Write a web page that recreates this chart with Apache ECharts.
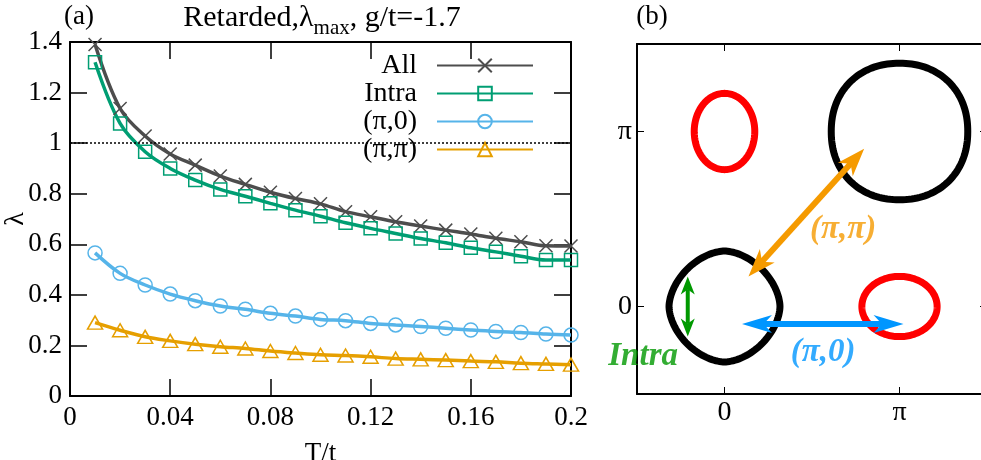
<!DOCTYPE html>
<html>
<head>
<meta charset="utf-8">
<script src="https://cdn.jsdelivr.net/npm/echarts@6/dist/echarts.min.js"></script>
<style>
  html, body { margin: 0; padding: 0; background: #fff; }
  #main { width: 981px; height: 460px; }
</style>
</head>
<body>
<div id="main"></div>
<script>
// (a) eigenvalue vs temperature
const temps = [0.01, 0.02, 0.03, 0.04, 0.05, 0.06, 0.07, 0.08, 0.09, 0.10,
  0.11, 0.12, 0.13, 0.14, 0.15, 0.16, 0.17, 0.18, 0.19, 0.20];
const lamAll = [1.39, 1.137, 1.028, 0.957, 0.913, 0.87, 0.837, 0.806, 0.781, 0.76,
  0.729, 0.709, 0.689, 0.672, 0.656, 0.641, 0.624, 0.61, 0.594, 0.593];
const lamIntra = [1.32, 1.078, 0.966, 0.9, 0.854, 0.817, 0.79, 0.762, 0.735, 0.711,
  0.685, 0.663, 0.643, 0.623, 0.606, 0.586, 0.57, 0.553, 0.538, 0.538];
const lamPi0 = [0.566, 0.485, 0.439, 0.403, 0.377, 0.356, 0.343, 0.327, 0.316, 0.303,
  0.298, 0.287, 0.281, 0.275, 0.268, 0.261, 0.255, 0.251, 0.245, 0.241];
const lamPiPi = [0.29, 0.26, 0.234, 0.218, 0.205, 0.195, 0.188, 0.178, 0.17, 0.163,
  0.16, 0.155, 0.148, 0.145, 0.142, 0.138, 0.135, 0.13, 0.127, 0.124];
const seriesNames = ['All', 'Intra', '(π,0)', '(π,π)'];
const lamThreshold = 1;

// (b) Fermi pockets, in units of pi: [kx, ky, rx, ry, squareness]
const holePockets = [[0, 0, 0.317, 0.317, 1.75], [1, 1, 0.39, 0.39, 2.15]];
const electronPockets = [[0, 1, 0.173, 0.218, 2], [1, 0, 0.215, 0.172, 2]];
// nesting arrows: [x1, y1, x2, y2]
const arrowPiPi = [[0.137, 0.171, 0.798, 0.901]];
const arrowPi0 = [[0.10, -0.10, 1.023, -0.10]];
const arrowIntra = [[-0.21, 0.171, -0.21, -0.171]];
const noteNames = ['(π,π)', '(π,0)', 'Intra'];
const noteX = [0.678, 0.564, -0.465];
const noteY = [0.438, -0.265, -0.286];
const kTicks = [0, 1];

const serif = "'Liberation Serif', 'DejaVu Serif', serif";
const colors = ['#4d4d4d', '#009e73', '#56b4e9', '#e69f00'];
const noteColors = ['#f59a00', '#0096ff', '#009900'];

const myChart = echarts.init(document.getElementById('main'));

function pairs(ys) {
  return temps.map((t, i) => [t, ys[i]]);
}

function lineSeries(idx, ys, symbol, size) {
  return {
    name: seriesNames[idx],
    type: 'line',
    xAxisIndex: 0,
    yAxisIndex: 0,
    data: pairs(ys),
    smooth: 0.35,
    symbol: symbol,
    symbolSize: size,
    showAllSymbol: true,
    lineStyle: { color: colors[idx], width: 3.5 },
    itemStyle: { color: 'rgba(0,0,0,0)', borderColor: colors[idx], borderWidth: 1.5 },
    emphasis: { disabled: true },
    z: 3
  };
}

function pocketItem(params, api) {
  const cx = api.value(0), cy = api.value(1);
  const rx = api.value(2), ry = api.value(3), p = api.value(4);
  const pts = [];
  for (let i = 0; i < 160; i++) {
    const t = i / 160 * 2 * Math.PI;
    const c = Math.cos(t), s = Math.sin(t);
    pts.push(api.coord([
      cx + rx * Math.sign(c) * Math.pow(Math.abs(c), 2 / p),
      cy + ry * Math.sign(s) * Math.pow(Math.abs(s), 2 / p)
    ]));
  }
  return {
    type: 'polygon',
    shape: { points: pts },
    style: { fill: 'none', stroke: api.visual('color'), lineWidth: 7 }
  };
}

function arrowItem(color, shaft, headLen, headHalf) {
  return function (params, api) {
    const a = api.coord([api.value(0), api.value(1)]);
    const b = api.coord([api.value(2), api.value(3)]);
    const dx = b[0] - a[0], dy = b[1] - a[1];
    const len = Math.sqrt(dx * dx + dy * dy);
    const ux = dx / len, uy = dy / len, nx = -uy, ny = ux;
    function head(tip, dir) {
      const bx = tip[0] - dir * ux * headLen, by = tip[1] - dir * uy * headLen;
      const notch = [tip[0] - dir * ux * headLen * 0.72, tip[1] - dir * uy * headLen * 0.72];
      return {
        type: 'polygon',
        shape: { points: [tip, [bx + nx * headHalf, by + ny * headHalf], notch, [bx - nx * headHalf, by - ny * headHalf]] },
        style: { fill: color }
      };
    }
    const cut = headLen * 0.7;
    return {
      type: 'group',
      children: [
        {
          type: 'line',
          shape: { x1: a[0] + ux * cut, y1: a[1] + uy * cut, x2: b[0] - ux * cut, y2: b[1] - uy * cut },
          style: { stroke: color, lineWidth: shaft }
        },
        head(a, -1),
        head(b, 1)
      ]
    };
  };
}

function kAxis(pos, labels) {
  return {
    type: 'value',
    gridIndex: 1,
    position: pos,
    min: -0.5,
    max: 1.5,
    interval: 0.5,
    axisLine: { onZero: false, lineStyle: { color: '#000', width: 2 } },
    axisTick: { inside: true, length: 7, customValues: kTicks, lineStyle: { color: '#000', width: 1 } },
    axisLabel: {
      show: labels,
      customValues: kTicks,
      color: '#000',
      fontFamily: serif,
      fontSize: 28,
      margin: 5,
      formatter: v => (v === 0 ? '0' : 'π')
    },
    splitLine: { show: false }
  };
}

function tAxis(pos, labels, extra) {
  return Object.assign({
    type: 'value',
    gridIndex: 0,
    position: pos,
    axisLine: { onZero: false, lineStyle: { color: '#000', width: 2 } },
    axisTick: { inside: true, length: 17, lineStyle: { color: '#000', width: 1.5 } },
    axisLabel: { show: labels, color: '#000', fontFamily: serif, fontSize: 27, margin: 8 },
    splitLine: { show: false }
  }, extra);
}

const option = {
  animation: false,
  backgroundColor: '#fff',
  textStyle: { fontFamily: serif },
  grid: [
    { left: 70, top: 42, width: 501, height: 354, outerBoundsMode: 'none', containLabel: false },
    { left: 637, top: 44, width: 350, height: 350, outerBoundsMode: 'none', containLabel: false }
  ],
  legend: {
    data: seriesNames,
    orient: 'vertical',
    align: 'right',
    right: 447,
    top: 51.5,
    padding: 0,
    itemGap: 0,
    itemWidth: 96,
    itemHeight: 17,
    selectedMode: false,
    textStyle: { color: '#000', fontFamily: serif, fontSize: 28, lineHeight: 21, padding: [0, 15, 0, 0] }
  },
  xAxis: [
    tAxis('bottom', true, {
      min: 0, max: 0.2, interval: 0.04,
      name: 'T/t', nameLocation: 'middle', nameGap: 44, nameMoveOverlap: false,
      nameTextStyle: { color: '#000', fontFamily: serif, fontSize: 27 }
    }),
    tAxis('top', false, { min: 0, max: 0.2, interval: 0.04 }),
    kAxis('bottom', true),
    kAxis('top', false)
  ],
  yAxis: [
    tAxis('left', true, {
      min: 0, max: 1.4, interval: 0.2,
      name: 'λ', nameLocation: 'middle', nameGap: 40, nameRotate: 90, nameMoveOverlap: false,
      nameTextStyle: { color: '#000', fontFamily: serif, fontSize: 28 }
    }),
    tAxis('right', false, { min: 0, max: 1.4, interval: 0.2 }),
    kAxis('left', true),
    kAxis('right', false)
  ],
  graphic: [
    { type: 'text', x: 79, y: 17, style: { text: '(a)', font: '27px ' + serif, fill: '#000', align: 'center', verticalAlign: 'middle' } },
    {
      type: 'text', x: 322, y: 18,
      style: {
        text: 'Retarded,λ{sub|max}, g/t=-1.7',
        font: '30px ' + serif,
        fill: '#000',
        lineHeight: 42,
        align: 'center',
        verticalAlign: 'middle',
        rich: { sub: { fontSize: 21, lineHeight: 21, verticalAlign: 'bottom', fontFamily: serif, fill: '#000' } }
      }
    },
    { type: 'text', x: 652, y: 17, style: { text: '(b)', font: '27px ' + serif, fill: '#000', align: 'center', verticalAlign: 'middle' } }
  ],
  series: [
    Object.assign(lineSeries(0, lamAll, 'path://M0,0L10,10M10,0L0,10', 13), {
      markLine: {
        silent: true,
        symbol: 'none',
        label: { show: false },
        lineStyle: { type: [2, 2], color: '#000', width: 1.5 },
        data: [{ yAxis: lamThreshold }]
      }
    }),
    lineSeries(1, lamIntra, 'rect', 13),
    lineSeries(2, lamPi0, 'circle', 14),
    lineSeries(3, lamPiPi, 'triangle', [15, 13]),
    {
      type: 'custom', name: 'hole', xAxisIndex: 2, yAxisIndex: 2,
      data: holePockets, renderItem: pocketItem, itemStyle: { color: '#000' },
      encode: { x: 0, y: 1 }, clip: false, silent: true
    },
    {
      type: 'custom', name: 'electron', xAxisIndex: 2, yAxisIndex: 2,
      data: electronPockets, renderItem: pocketItem, itemStyle: { color: '#ff0000' },
      encode: { x: 0, y: 1 }, clip: false, silent: true
    },
    {
      type: 'custom', xAxisIndex: 2, yAxisIndex: 2, data: arrowPiPi,
      renderItem: arrowItem(noteColors[0], 6, 28, 10), encode: { x: [0, 2], y: [1, 3] }, silent: true, z: 4
    },
    {
      type: 'custom', xAxisIndex: 2, yAxisIndex: 2, data: arrowPi0,
      renderItem: arrowItem(noteColors[1], 6, 30, 9), encode: { x: [0, 2], y: [1, 3] }, silent: true, z: 4
    },
    {
      type: 'custom', xAxisIndex: 2, yAxisIndex: 2, data: arrowIntra,
      renderItem: arrowItem(noteColors[2], 4, 18, 7), encode: { x: [0, 2], y: [1, 3] }, silent: true, z: 4
    },
    {
      type: 'scatter', xAxisIndex: 2, yAxisIndex: 2, symbolSize: 0, silent: true, z: 5,
      data: noteNames.map((n, i) => ({
        value: [noteX[i], noteY[i]],
        label: {
          show: true, position: 'inside', formatter: n,
          color: noteColors[i], fontFamily: serif, fontSize: 33,
          fontWeight: 'bold', fontStyle: 'italic'
        }
      }))
    }
  ]
};

myChart.setOption(option);
</script>
</body>
</html>
